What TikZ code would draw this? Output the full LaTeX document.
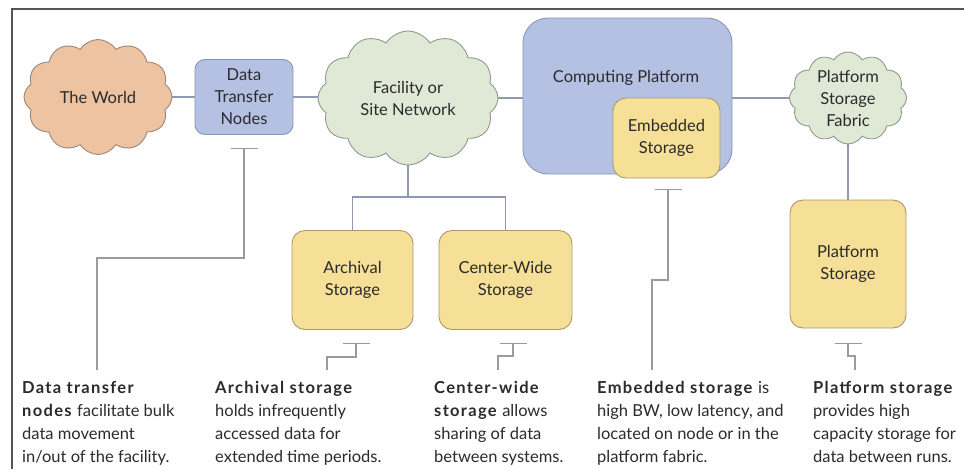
\documentclass[tikz,border=0pt]{standalone}
\usepackage{fontspec}
\setmainfont{Lato}[BoldFeatures={LetterSpace=8}]
\usetikzlibrary{shapes.symbols,arrows.meta}
\definecolor{peachF}{HTML}{EDC3A2}
\definecolor{peachD}{HTML}{9C8675}
\definecolor{blueF}{HTML}{B5C1E3}
\definecolor{blueD}{HTML}{8795B8}
\definecolor{greenF}{HTML}{DFE9D5}
\definecolor{greenD}{HTML}{8E9B8A}
\definecolor{yelF}{HTML}{F6DF97}
\definecolor{yelD}{HTML}{A8996B}
\definecolor{conn}{HTML}{8F99B3}
\definecolor{callc}{HTML}{9B9B9B}
\definecolor{txt}{HTML}{2B2B2B}
\definecolor{frame}{HTML}{555555}
\tikzset{
  lbl/.style={font=\fontsize{16.5}{22}\selectfont, text=txt, align=center},
  cloudnode/.style={lbl, cloud, cloud puffs=12, cloud puff arc=115, cloud ignores aspect, inner sep=0pt, line width=0.9pt},
  boxnode/.style={lbl, rectangle, rounded corners=10pt, line width=0.9pt, inner sep=0pt},
  wire/.style={conn, line width=1.1pt},
  callout/.style={callc, line width=1.1pt, {Bar[width=27pt,line width=1.1pt,length=0pt]}-},
  note/.style={font=\fontsize{16.5}{23}\selectfont, text=txt, align=left, anchor=north west, inner sep=0pt},
}
\begin{document}
\begin{tikzpicture}[x=1pt,y=-1pt]
\useasboundingbox (0,0) rectangle (964,469);
\fill[white] (0,0) rectangle (964,469);
\draw[frame, line width=2pt] (12,469) -- (12,9) -- (964,9);

% nodes
\node[cloudnode, fill=peachF, draw=peachD, minimum width=148pt, minimum height=115pt] (world) at (98,97) {The World};
\node[boxnode, fill=blueF, draw=blueD, minimum width=98pt, minimum height=75pt] (dtn) at (244,97) {Data\\Transfer\\Nodes};
\node[cloudnode, fill=greenF, draw=greenD, minimum width=180pt, minimum height=134pt] (fac) at (408,98) {Facility or\\Site Network};
\node[boxnode, rounded corners=25pt, fill=blueF, draw=blueD, minimum width=209pt, minimum height=156pt] (cp) at (627.5,96) {};
\node[lbl] (cptext) at (626,78) {Computing Platform};
\node[boxnode, rounded corners=13pt, fill=yelF, draw=yelD, minimum width=107pt, minimum height=80pt] (emb) at (666.5,138) {Embedded\\Storage};
\node[cloudnode, fill=greenF, draw=greenD, minimum width=117pt, minimum height=92pt] (fab) at (848,98) {Platform\\Storage\\Fabric};
\node[boxnode, rounded corners=13pt, fill=yelF, draw=yelD, minimum width=116pt, minimum height=128pt] (ps) at (848,264) {Platform\\Storage};
\node[boxnode, rounded corners=13pt, fill=yelF, draw=yelD, minimum width=121pt, minimum height=99pt] (arch) at (352.5,280) {Archival\\Storage};
\node[boxnode, rounded corners=13pt, fill=yelF, draw=yelD, minimum width=133pt, minimum height=99pt] (cw) at (505.5,280) {Center-Wide\\Storage};

% wires
\coordinate (bus) at (408,197);
\draw[wire] (world) -- (dtn);
\draw[wire] (dtn) -- (dtn -| fac.west);
\draw[wire] (fac) -- (fac -| cp.west);
\draw[wire] (cp.east |- fab) -- (fab);
\draw[wire] (fab) -- (ps);
\draw[wire] (fac.south) -- (fac.south |- bus);
\draw[wire] (arch.north) -- (arch.north |- bus) -- (cw.north |- bus) -- (cw.north);

% callouts
\coordinate (c1a) at (244,148); \coordinate (c1b) at (244,258); \coordinate (c1c) at (97,370);
\draw[callout] (c1a) -- (c1b) -| (c1c);
\coordinate (c2a) at (356,343); \coordinate (c2b) at (356,357); \coordinate (c2c) at (327,370);
\draw[callout] (c2a) -- (c2b) -| (c2c);
\coordinate (c3a) at (513,343); \coordinate (c3b) at (513,356); \coordinate (c3c) at (498,370);
\draw[callout] (c3a) -- (c3b) -| (c3c);
\coordinate (c4a) at (668,189); \coordinate (c4b) at (668,280); \coordinate (c4c) at (652,370);
\draw[callout] (c4a) -- (c4b) -| (c4c);
\coordinate (c5a) at (848,343); \coordinate (c5b) at (848,356); \coordinate (c5c) at (855,370);
\draw[callout] (c5a) -- (c5b) -| (c5c);

% notes
\node[note] (n1) at (22,381) {\textbf{Data transfer}\\\textbf{nodes} facilitate bulk\\data movement\\in/out of the facility.};
\node[note] (n2) at (215,381) {\textbf{Archival storage}\\holds infrequently\\accessed data for\\extended time periods.};
\node[note] (n3) at (434,381) {\textbf{Center-wide}\\\textbf{storage} allows\\sharing of data\\between systems.};
\node[note] (n4) at (597,381) {\textbf{Embedded storage} is\\high BW, low latency, and\\located on node or in the\\platform fabric.};
\node[note] (n5) at (813,381) {\textbf{Platform storage}\\provides high\\capacity storage for\\data between runs.};
\end{tikzpicture}
\end{document}
